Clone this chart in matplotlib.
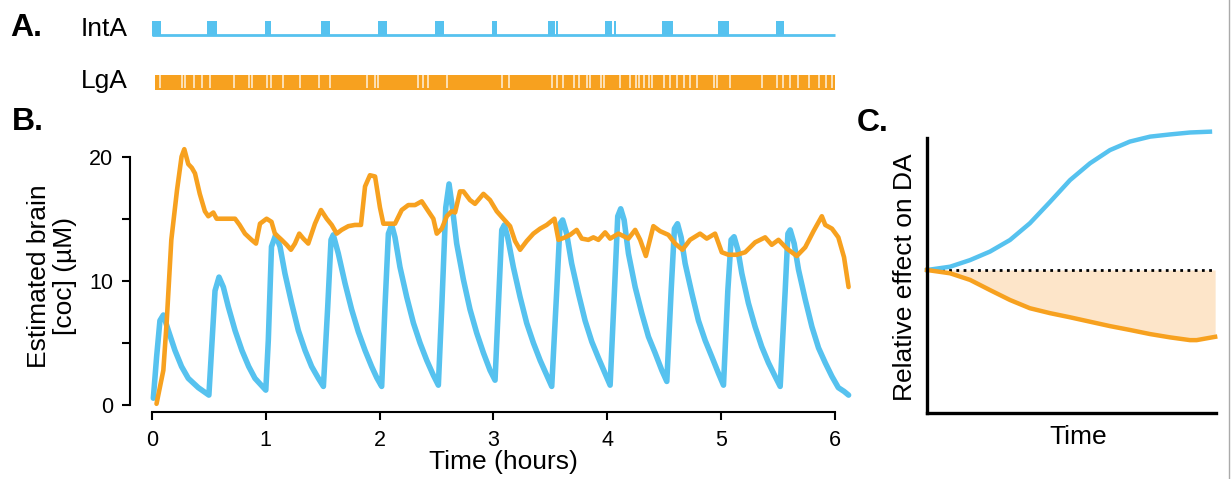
import matplotlib.pyplot as plt
from matplotlib.lines import Line2D

plt.rcParams['font.family'] = ['Liberation Sans', 'DejaVu Sans']

W, H = 1231, 479
BLUE = '#56c2ef'
ORANGE = '#f7a11f'
FILL = '#fde5c9'

# --- Panel A: infusion rasters (hours) ---
inta_start = [0.0, 0.486, 0.993, 1.485, 1.989, 2.487, 2.988, 3.483, 3.55,
              3.98, 4.058, 4.484, 4.976, 5.48]
inta_end = [0.08, 0.568, 1.043, 1.564, 2.068, 2.566, 3.034, 3.54, 3.57,
            4.045, 4.08, 4.58, 5.07, 5.55]
session_end = 6.0
lga_start = 0.03
lga_gaps = [0.068, 0.265, 0.292, 0.365, 0.439, 0.512, 0.717, 0.849, 0.879,
            1.011, 1.046, 1.151, 1.304, 1.465, 1.567, 1.889, 1.962, 1.986,
            2.341, 2.385, 2.424, 2.589, 3.076, 3.137, 3.511, 3.559, 3.612,
            3.704, 3.748, 3.818, 3.849, 3.941, 3.968, 4.112, 4.2, 4.249,
            4.279, 4.319, 4.363, 4.389, 4.499, 4.552, 4.613, 4.671, 4.728,
            4.789, 4.939, 4.965, 5.079, 5.36, 5.488, 5.545, 5.606, 5.672,
            5.773, 5.861, 5.918, 5.971]

# --- Panel B: estimated brain cocaine (uM) ---
inta_t = [0.012, 0.041, 0.07, 0.1, 0.144, 0.202, 0.26, 0.319, 0.407, 0.5,
          0.554, 0.589, 0.627, 0.671, 0.73, 0.79, 0.85, 0.905, 1.0,
          1.022, 1.05, 1.087, 1.125, 1.168, 1.227, 1.286, 1.345, 1.403, 1.462, 1.506,
          1.544, 1.573, 1.593, 1.637, 1.696, 1.754, 1.813, 1.872, 1.93, 1.975, 2.018,
          2.047, 2.077, 2.106, 2.135, 2.179, 2.238, 2.297, 2.355, 2.414, 2.472, 2.516,
          2.546, 2.581, 2.61, 2.639, 2.677, 2.736, 2.794, 2.853, 2.912, 2.97, 3.014,
          3.049, 3.073, 3.096, 3.125, 3.175, 3.234, 3.292, 3.351, 3.41, 3.468, 3.512,
          3.556, 3.585, 3.608, 3.643, 3.687, 3.746, 3.805, 3.864, 3.922, 3.981, 4.025,
          4.063, 4.092, 4.118, 4.148, 4.186, 4.245, 4.303, 4.362, 4.42, 4.479, 4.523,
          4.561, 4.59, 4.617, 4.649, 4.684, 4.743, 4.801, 4.86, 4.918, 4.977, 5.021,
          5.059, 5.088, 5.114, 5.147, 5.182, 5.24, 5.299, 5.357, 5.416, 5.475, 5.519,
          5.563, 5.587, 5.607, 5.642, 5.68, 5.739, 5.798, 5.856, 5.915, 5.974, 6.03,
          6.08, 6.12]
inta_coc = [0.55, 3.9, 6.8, 7.25, 6.0, 4.4, 3.1, 2.15, 1.4, 0.8,
            9.2, 10.3, 9.5, 7.9, 6.0, 4.4, 3.1, 2.15, 1.2,
            5.2, 12.75, 13.7, 12.75, 10.6, 8.2, 6.0, 4.4, 3.1, 2.15, 1.5,
            7.9, 13.3, 13.7, 12.2, 9.8, 7.7, 5.9, 4.4, 3.1, 2.2, 1.5,
            7.9, 13.8, 14.5, 13.5, 11.1, 8.7, 6.6, 5.0, 3.6, 2.4, 1.6,
            7.9, 15.9, 17.8, 15.9, 13.0, 10.1, 7.7, 5.8, 4.2, 2.8, 2.0,
            9.2, 14.1, 14.5, 13.5, 11.1, 8.7, 6.6, 5.0, 3.6, 2.4, 1.5,
            9.2, 14.6, 14.9, 13.8, 11.4, 9.0, 6.8, 5.1, 3.8, 2.55, 1.6,
            9.2, 15.2, 15.8, 14.9, 12.2, 9.5, 7.4, 5.5, 4.2, 2.8, 1.9,
            9.2, 14.2, 14.6, 13.5, 11.4, 9.0, 6.8, 5.2, 3.9, 2.55, 1.6,
            9.2, 13.3, 13.55, 12.5, 10.6, 8.2, 6.3, 4.7, 3.4, 2.3, 1.5,
            9.2, 13.8, 14.1, 13.0, 10.9, 8.5, 6.3, 4.6, 3.4, 2.3, 1.4,
            1.1, 0.8]

lga_t = [0.04, 0.10, 0.13, 0.17, 0.22, 0.26, 0.284, 0.319, 0.35, 0.378, 0.42,
         0.465, 0.495, 0.539, 0.568, 0.641, 0.73, 0.77, 0.817, 0.875, 0.914,
         0.949, 1.007, 1.05, 1.08, 1.139, 1.183, 1.221, 1.256, 1.294, 1.33,
         1.373, 1.432, 1.485, 1.535, 1.579, 1.623, 1.666, 1.725, 1.783, 1.836,
         1.872, 1.915, 1.96, 2.003, 2.033, 2.135, 2.194, 2.252, 2.311, 2.37,
         2.428, 2.472, 2.502, 2.546, 2.59, 2.633, 2.663, 2.706, 2.736, 2.794,
         2.838, 2.912, 2.97, 3.029, 3.087, 3.146, 3.19, 3.234, 3.292, 3.351,
         3.41, 3.468, 3.536, 3.571, 3.629, 3.673, 3.731, 3.776, 3.834, 3.878,
         3.922, 3.981, 4.025, 4.098, 4.186, 4.245, 4.289, 4.339, 4.405, 4.464,
         4.537, 4.596, 4.66, 4.727, 4.815, 4.874, 4.947, 5.006, 5.064, 5.138,
         5.211, 5.299, 5.387, 5.445, 5.504, 5.577, 5.665, 5.739, 5.812, 5.885,
         5.915, 5.974, 6.03, 6.08, 6.12]
lga_coc = [0.1, 2.8, 6.8, 13.3, 17.3, 20.0, 20.6, 19.4, 19.1, 18.65, 17.0,
           15.6, 15.2, 15.5, 15.0, 15.0, 15.0, 14.5, 13.8, 13.3, 13.0,
           14.6, 15.0, 14.75, 13.8, 13.3, 12.9, 12.5, 13.0, 13.8, 13.4,
           13.0, 14.6, 15.7, 15.0, 14.5, 13.8, 14.1, 14.4, 14.5, 14.5,
           17.6, 18.5, 18.4, 15.9, 14.6, 14.6, 15.7, 16.1, 16.1, 16.4,
           15.6, 15.0, 13.8, 14.2, 15.2, 15.6, 15.5, 17.2, 17.2, 16.5,
           16.2, 17.0, 16.5, 15.6, 15.0, 14.4, 13.2, 12.5, 13.2, 13.8,
           14.2, 14.5, 15.0, 13.3, 13.5, 13.7, 14.1, 13.4, 13.3, 13.5,
           13.3, 13.9, 13.4, 13.8, 13.4, 14.1, 13.3, 12.0, 14.4, 14.0,
           13.7, 13.0, 12.5, 13.3, 13.8, 13.4, 13.8, 12.3, 12.1, 12.1,
           12.3, 13.1, 13.5, 12.9, 13.3, 12.6, 12.0, 12.7, 14.0, 15.2,
           14.5, 14.2, 13.5, 11.9, 9.5]

# --- Panel C: schematic relative effect on DA ---
c_baseline = 0.52
c_blue_x = [0.0, 0.08, 0.149, 0.218, 0.287, 0.356, 0.426, 0.495, 0.564, 0.633,
            0.702, 0.772, 0.841, 0.91, 0.979]
c_blue_y = [0.52, 0.532, 0.556, 0.587, 0.629, 0.69, 0.768, 0.847, 0.908, 0.956,
            0.987, 1.005, 1.013, 1.02, 1.023]
c_orange_x = [0.0, 0.08, 0.149, 0.218, 0.287, 0.356, 0.426, 0.495, 0.564, 0.633,
              0.702, 0.772, 0.841, 0.91, 0.933, 0.997]
c_orange_y = [0.52, 0.508, 0.484, 0.447, 0.411, 0.381, 0.363, 0.348, 0.332, 0.316,
              0.302, 0.287, 0.275, 0.265, 0.265, 0.277]


def fx(px):
    return px / W


def fy(py):
    return 1 - py / H


fig = plt.figure(figsize=(W / 100, H / 100), dpi=100)

# ---------- Panel A ----------
axA = fig.add_axes([fx(130), fy(100), (852 - 130) / W, 90 / H])
axA.set_xlim(-0.193, 6.15)
axA.set_ylim(0, 1)
axA.axis('off')
axA.plot([0, session_end], [0.722, 0.722], color=BLUE, lw=2.0, solid_capstyle='butt')
axA.broken_barh([(s, e - s) for s, e in zip(inta_start, inta_end)], (0.71, 0.168),
                facecolor=BLUE, edgecolor='none')
axA.broken_barh([(lga_start, session_end - lga_start)], (0.111, 0.167),
                facecolor=ORANGE, edgecolor='none')
axA.vlines(lga_gaps, 0.13, 0.278, color='white', lw=1.1, alpha=0.85)

fig.text(fx(10), fy(28), 'A.', fontsize=23, fontweight='bold', va='center')
fig.text(fx(128), fy(29), 'IntA', fontsize=19, ha='right', va='center')
fig.text(fx(128), fy(81), 'LgA', fontsize=19, ha='right', va='center')

# ---------- Panel B ----------
axB = fig.add_axes([fx(130), fy(412), (852 - 130) / W, (412 - 144.2) / H])
axB.set_xlim(-0.193, 6.15)
axB.set_ylim(-0.56, 21)
axB.plot(inta_t, inta_coc, color=BLUE, lw=4.0, solid_joinstyle='round',
         solid_capstyle='round', clip_on=False)
axB.plot(lga_t, lga_coc, color=ORANGE, lw=3.3, solid_joinstyle='round',
         solid_capstyle='round', clip_on=False)
for side in ['top', 'right']:
    axB.spines[side].set_visible(False)
for side in ['left', 'bottom']:
    axB.spines[side].set_linewidth(1.5)
axB.spines['left'].set_bounds(0, 20)
axB.spines['bottom'].set_bounds(0, 6)
axB.set_xticks(range(7))
axB.set_yticks([0, 5, 10, 15, 20])
axB.set_yticklabels(['0', '', '10', '', '20'])
axB.tick_params(axis='both', length=6, width=1.5, labelsize=15.5)
axB.tick_params(axis='y', pad=6)
axB.tick_params(axis='x', pad=7)

fig.text(fx(12), fy(122), 'B.', fontsize=23, fontweight='bold', va='center')
fig.text(fx(52), fy(276), 'Estimated brain\n[coc] (\u00b5M)', fontsize=19,
         rotation=90, ha='center', va='center', linespacing=1.15)
fig.text(fx(503), fy(462), 'Time (hours)', fontsize=19, ha='center', va='center')

# ---------- Panel C ----------
axC = fig.add_axes([fx(927), fy(413), 289 / W, 275 / H])
axC.set_xlim(0, 1)
axC.set_ylim(0, 1)
axC.fill_between(c_orange_x, c_orange_y, c_baseline, color=FILL, lw=0)
axC.plot([0, 1], [c_baseline, c_baseline], color='black', lw=2, ls=(0, (1, 1.6)))
axC.plot(c_blue_x, c_blue_y, color=BLUE, lw=3.2, clip_on=False,
         solid_joinstyle='round')
axC.plot(c_orange_x, c_orange_y, color=ORANGE, lw=3.2, clip_on=False,
         solid_joinstyle='round')
for side in ['top', 'right']:
    axC.spines[side].set_visible(False)
for side in ['left', 'bottom']:
    axC.spines[side].set_linewidth(2.4)
axC.set_xticks([])
axC.set_yticks([])

fig.text(fx(857), fy(123), 'C.', fontsize=23, fontweight='bold', va='center')
fig.text(fx(1078), fy(437), 'Time', fontsize=19, ha='center', va='center')
fig.text(fx(905), fy(277), 'Relative effect on DA', fontsize=19, rotation=90,
         ha='center', va='center')

# thin frame edge on the right
fig.add_artist(Line2D([fx(1229), fx(1229)], [0, 1], color='#aaaaaa', lw=1))

fig.savefig('out.png', dpi=100)
